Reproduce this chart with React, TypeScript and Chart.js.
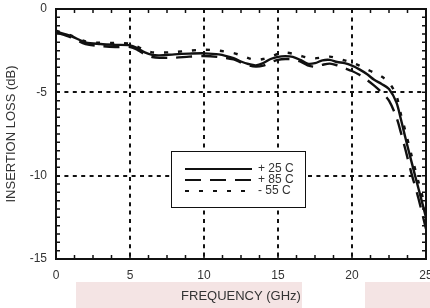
import React, { useEffect, useRef } from 'react';
import { Chart, registerables } from 'chart.js';

Chart.register(...registerables);

const freqs = [0, 1, 2, 3, 4, 5, 5.5, 6, 6.5, 7, 8, 9, 10, 11, 12, 12.5, 13, 13.5, 14, 14.5, 15, 15.5, 16, 16.5, 17, 17.5, 18, 18.5, 19, 19.5, 20, 20.5, 21, 21.5, 22, 22.5, 23, 23.3, 23.6, 24, 24.5, 25];
const loss25 = [-1.35, -1.62, -2.0, -2.1, -2.15, -2.18, -2.35, -2.6, -2.75, -2.78, -2.72, -2.68, -2.66, -2.72, -2.95, -3.15, -3.3, -3.38, -3.25, -3.0, -2.87, -2.83, -2.87, -3.05, -3.28, -3.25, -3.08, -3.05, -3.18, -3.25, -3.4, -3.62, -3.9, -4.25, -4.5, -4.8, -5.6, -6.6, -7.7, -9.1, -10.8, -12.5];
const loss85 = [-1.4, -1.7, -2.1, -2.22, -2.28, -2.28, -2.45, -2.72, -2.88, -2.93, -2.92, -2.86, -2.82, -2.88, -3.02, -3.2, -3.38, -3.46, -3.4, -3.2, -3.05, -3.0, -3.02, -3.15, -3.38, -3.46, -3.35, -3.28, -3.38, -3.55, -3.72, -3.95, -4.25, -4.6, -5.0, -5.5, -6.5, -7.4, -8.4, -9.8, -11.4, -13.2];
const lossM55 = [-1.3, -1.58, -1.95, -2.03, -2.04, -2.08, -2.25, -2.5, -2.6, -2.62, -2.58, -2.5, -2.44, -2.5, -2.65, -2.78, -2.95, -3.05, -3.0, -2.85, -2.7, -2.62, -2.68, -2.8, -2.92, -2.96, -2.9, -2.86, -2.96, -3.08, -3.22, -3.4, -3.62, -3.82, -4.05, -4.4, -5.2, -6.3, -7.3, -8.7, -10.4, -12.0];
const seriesLabels = ['+ 25 C', '+ 85 C', '- 55 C'];
const xTicks = [0, 5, 10, 15, 20, 25];
const yTicks = [0, -5, -10, -15];
const xMinorStep = 1.25;
const yMinorStep = 0.5;

const FONT = '"Liberation Sans", Arial, Helvetica, sans-serif';
const INK = '#111';

const toPoints = (ys: number[]) => freqs.map((f, i) => ({ x: f, y: ys[i] }));

const framePlugin = {
  id: 'frame',
  beforeDatasetsDraw(chart: any) {
    const { ctx, chartArea: a, scales } = chart;
    const x = scales.x;
    const y = scales.y;
    ctx.save();
    ctx.strokeStyle = INK;
    ctx.lineWidth = 2;
    ctx.setLineDash([4, 4.4]);
    xTicks.forEach((v) => {
      if (v <= x.min || v >= x.max) return;
      const px = Math.round(x.getPixelForValue(v));
      ctx.beginPath();
      ctx.moveTo(px, a.top);
      ctx.lineTo(px, a.bottom);
      ctx.stroke();
    });
    yTicks.forEach((v) => {
      if (v <= y.min || v >= y.max) return;
      const py = Math.round(y.getPixelForValue(v));
      ctx.beginPath();
      ctx.moveTo(a.left, py);
      ctx.lineTo(a.right, py);
      ctx.stroke();
    });
    ctx.restore();
  },
  afterDatasetsDraw(chart: any) {
    const { ctx, chartArea: a, scales } = chart;
    const x = scales.x;
    const y = scales.y;
    ctx.save();
    ctx.strokeStyle = INK;
    ctx.setLineDash([]);
    ctx.lineWidth = 1.5;
    const tl = 4;
    for (let v = x.min; v <= x.max + 1e-9; v += xMinorStep) {
      const px = x.getPixelForValue(v);
      ctx.beginPath();
      ctx.moveTo(px, a.top);
      ctx.lineTo(px, a.top + tl);
      ctx.moveTo(px, a.bottom);
      ctx.lineTo(px, a.bottom - tl);
      ctx.stroke();
    }
    for (let v = y.min; v <= y.max + 1e-9; v += yMinorStep) {
      const py = y.getPixelForValue(v);
      ctx.beginPath();
      ctx.moveTo(a.left, py);
      ctx.lineTo(a.left + tl, py);
      ctx.moveTo(a.right, py);
      ctx.lineTo(a.right - tl, py);
      ctx.stroke();
    }
    ctx.lineWidth = 2;
    ctx.strokeRect(a.left, a.top, a.right - a.left, a.bottom - a.top);

    // legend
    const bx = 171, by = 151, bw = 134, bh = 56;
    ctx.fillStyle = '#fff';
    ctx.fillRect(bx, by, bw, bh);
    ctx.lineWidth = 1;
    ctx.strokeRect(bx + 0.5, by + 0.5, bw, bh);
    const rows = [169, 180, 191];
    chart.data.datasets.forEach((ds: any, i: number) => {
      const ry = rows[i];
      ctx.save();
      ctx.strokeStyle = INK;
      ctx.lineWidth = 2.2;
      ctx.setLineDash(ds.borderDash || []);
      ctx.beginPath();
      ctx.moveTo(185, ry);
      ctx.lineTo(252, ry);
      ctx.stroke();
      ctx.restore();
      ctx.fillStyle = '#333';
      ctx.font = `12px ${FONT}`;
      ctx.textBaseline = 'middle';
      ctx.textAlign = 'left';
      ctx.fillText(ds.label, 258, ry);
    });
    ctx.restore();
  },
};

export default function App() {
  const ref = useRef<HTMLCanvasElement | null>(null);
  useEffect(() => {
    if (!ref.current) return;
    const chart = new Chart(ref.current, {
      type: 'line',
      data: {
        datasets: [
          { label: seriesLabels[0], data: toPoints(loss25), borderColor: INK, borderWidth: 2.4, borderDash: [], pointRadius: 0, tension: 0.3 },
          { label: seriesLabels[1], data: toPoints(loss85), borderColor: INK, borderWidth: 2.4, borderDash: [16, 9], pointRadius: 0, tension: 0.3 },
          { label: seriesLabels[2], data: toPoints(lossM55), borderColor: INK, borderWidth: 2.4, borderDash: [4, 10], pointRadius: 0, tension: 0.3 },
        ],
      },
      options: {
        responsive: false,
        animation: false,
        layout: { padding: { top: 9, right: 4, left: 0, bottom: 0 } },
        plugins: { legend: { display: false }, tooltip: { enabled: false } },
        scales: {
          x: {
            type: 'linear',
            min: 0,
            max: 25,
            afterBuildTicks: (s: any) => { s.ticks = xTicks.map((v) => ({ value: v })); },
            afterFit: (s: any) => { s.height = 49; s.paddingLeft = 0; s.paddingRight = 0; },
            grid: { display: false, drawTicks: false },
            border: { display: false },
            ticks: { padding: 9, maxRotation: 0, autoSkip: false, color: '#333', font: { family: FONT, size: 12 }, callback: (v: any) => String(v) },
            title: { display: true, text: 'FREQUENCY (GHz)', color: '#333', font: { family: FONT, size: 13 }, padding: { top: 0, bottom: 4 } },
          },
          y: {
            type: 'linear',
            min: -15,
            max: 0,
            afterBuildTicks: (s: any) => { s.ticks = yTicks.map((v) => ({ value: v })); },
            afterFit: (s: any) => { s.width = 56; s.paddingTop = 0; s.paddingBottom = 0; },
            grid: { display: false, drawTicks: false },
            border: { display: false },
            ticks: { padding: 9, autoSkip: false, color: '#333', font: { family: FONT, size: 12 }, callback: (v: any) => String(v) },
            title: { display: true, text: 'INSERTION LOSS (dB)', color: '#333', font: { family: FONT, size: 13 }, padding: { top: 4, bottom: 0 } },
          },
        },
      },
      plugins: [framePlugin],
    });
    return () => chart.destroy();
  }, []);

  return (
    <div style={{ position: 'absolute', left: 0, top: 0, width: 430, height: 308, background: '#fff', overflow: 'hidden' }}>
      <div style={{ position: 'absolute', left: 76, top: 282, width: 226, height: 26, background: '#f4e4e4' }} />
      <div style={{ position: 'absolute', left: 365, top: 282, width: 65, height: 26, background: '#f4e4e4' }} />
      <canvas ref={ref} width={430} height={308} style={{ position: 'absolute', left: 0, top: 0, width: 430, height: 308 }} />
    </div>
  );
}
